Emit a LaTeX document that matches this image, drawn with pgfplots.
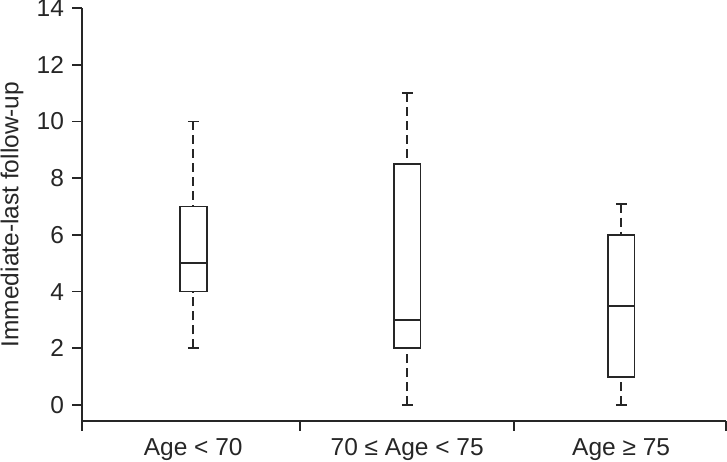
\documentclass[border=0pt]{standalone}
\usepackage{fontspec}
\setmainfont{Liberation Sans}
\usepackage{pgfplots}
\pgfplotsset{compat=1.18}
\usepgfplotslibrary{statistics}
\definecolor{ink}{RGB}{38,38,38}

% dashed whisker, solid cap
\tikzset{
  whiskerline/.style={ink,line width=1.8bp,dash pattern=on 9bp off 5bp},
  whiskercap/.style={ink,line width=1.8bp,solid},
}
\pgfplotsset{
  boxplot/draw/lower whisker/.code={%
    \draw[whiskerline]
      (boxplot box cs:\pgfplotsboxplotvalue{lower whisker},0.5)
      -- (boxplot box cs:\pgfplotsboxplotvalue{lower quartile},0.5);
    \draw[whiskercap]
      (boxplot whisker cs:\pgfplotsboxplotvalue{lower whisker},0)
      -- (boxplot whisker cs:\pgfplotsboxplotvalue{lower whisker},1);
  },
  boxplot/draw/upper whisker/.code={%
    \draw[whiskerline]
      (boxplot box cs:\pgfplotsboxplotvalue{upper whisker},0.5)
      -- (boxplot box cs:\pgfplotsboxplotvalue{upper quartile},0.5);
    \draw[whiskercap]
      (boxplot whisker cs:\pgfplotsboxplotvalue{upper whisker},0)
      -- (boxplot whisker cs:\pgfplotsboxplotvalue{upper whisker},1);
  },
}

\begin{document}
\begin{tikzpicture}
\begin{axis}[
  at={(0,0)}, anchor=south west,
  scale only axis, width=644bp, height=413bp,
  xmin=0.48, xmax=3.49, ymin=-0.564, ymax=14,
  axis x line*=bottom, axis y line*=left,
  axis line style={ink,line width=1.8bp},
  every tick/.style={ink,line width=1.8bp},
  tick align=outside, major tick length=9.5bp,
  xtick={0.48,1.5,2.5,3.49}, xticklabels={},
  extra x ticks={1,2,3},
  extra x tick labels={Age < 70,70 ≤ Age < 75,Age ≥ 75},
  extra x tick style={major tick length=0pt,
    tick label style={yshift=-14bp}},
  ytick={0,2,...,14},
  tick label style={font=\fontsize{24.5bp}{28bp}\selectfont, text=ink},
  yticklabel style={xshift=-5bp},
  /pgf/number format/assume math mode=true,
  ylabel={Immediate-last follow-up},
  ylabel style={font=\fontsize{24.5bp}{28bp}\selectfont, text=ink,
    at={(axis description cs:-0.0989,0.5)}, anchor=base},
  boxplot/draw direction=y,
  boxplot/box extend=0.125, boxplot/whisker extend=0.05,
]
\addplot[boxplot prepared={draw position=1, lower whisker=2,
  lower quartile=4, median=5, upper quartile=7, upper whisker=10},
  draw=ink, line width=1.8bp] coordinates {};
\addplot[boxplot prepared={draw position=2, lower whisker=0,
  lower quartile=2, median=3, upper quartile=8.5, upper whisker=11},
  draw=ink, line width=1.8bp] coordinates {};
\addplot[boxplot prepared={draw position=3, lower whisker=0,
  lower quartile=1, median=3.5, upper quartile=6, upper whisker=7.1},
  draw=ink, line width=1.8bp] coordinates {};
\end{axis}
\pgfresetboundingbox
\path[use as bounding box] (-82bp,-41bp) rectangle (645bp,421bp);
\end{tikzpicture}
\end{document}
